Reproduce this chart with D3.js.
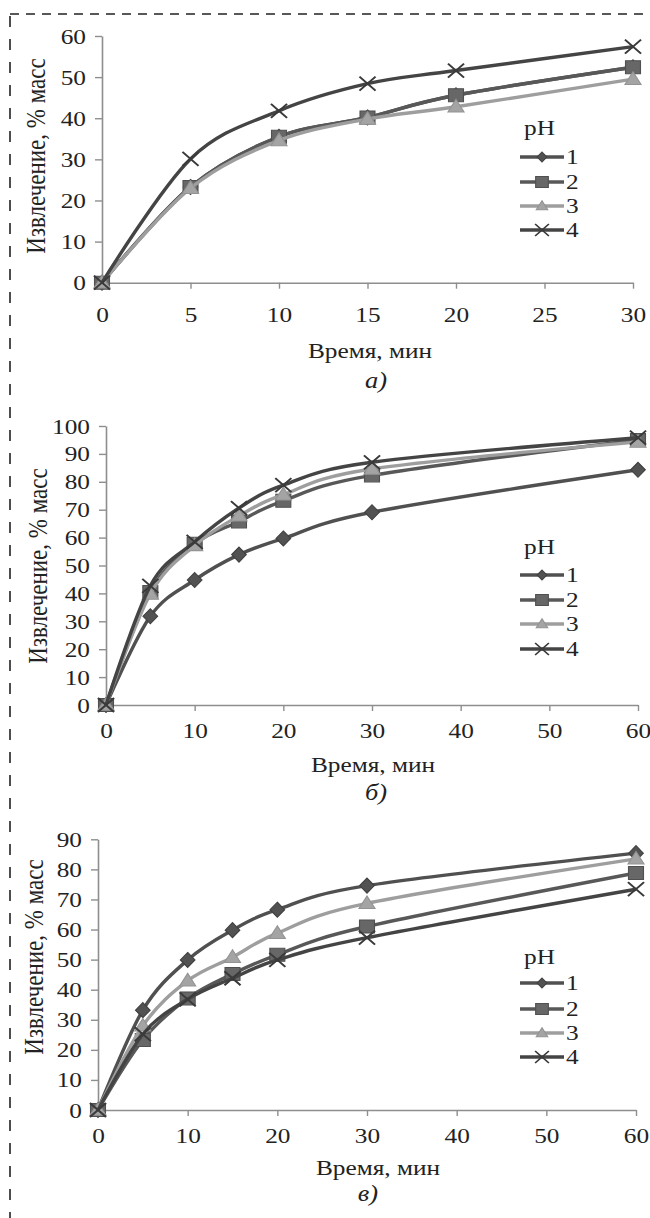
<!DOCTYPE html>
<html><head><meta charset="utf-8">
<script src="https://cdn.jsdelivr.net/npm/d3@7"></script>
<style>body{margin:0;background:#fff}svg{display:block}text{font-family:"Liberation Serif";}</style>
</head><body>
<script>
// ---- DATA ----
const timesA = [0, 5, 10, 15, 20, 30];
const timesBC = [0, 5, 10, 15, 20, 30, 60];
const seriesNames = ["1", "2", "3", "4"];
const xTicksA = [0, 5, 10, 15, 20, 25, 30];
const xTicksBC = [0, 10, 20, 30, 40, 50, 60];
const yTicksA = [0, 10, 20, 30, 40, 50, 60];
const yTicksB = [0, 10, 20, 30, 40, 50, 60, 70, 80, 90, 100];
const yTicksC = [0, 10, 20, 30, 40, 50, 60, 70, 80, 90];

const a_pH1 = [0, 23.3, 35.5, 40.2, 45.6, 52.4];
const a_pH2 = [0, 23.3, 35.5, 40.2, 45.6, 52.4];
const a_pH3 = [0, 23.0, 34.6, 39.8, 42.8, 49.5];
const a_pH4 = [0, 30.1, 41.8, 48.4, 51.6, 57.4];

const b_pH1 = [0, 31.8, 44.8, 53.9, 59.7, 69.1, 84.3];
const b_pH2 = [0, 40.5, 57.8, 65.8, 73.2, 82.3, 95.0];
const b_pH3 = [0, 39.8, 57.2, 67.8, 75.4, 84.6, 94.3];
const b_pH4 = [0, 42.7, 58.5, 70.6, 78.8, 87.0, 95.8];

const c_pH1 = [0, 33.2, 49.9, 59.8, 66.6, 74.6, 85.4];
const c_pH2 = [0, 23.3, 37.1, 45.2, 51.6, 61.0, 78.8];
const c_pH3 = [0, 28.0, 43.0, 50.8, 58.8, 68.7, 83.5];
const c_pH4 = [0, 25.2, 36.8, 43.8, 49.9, 57.3, 73.4];

const xTitle = "Время, мин";
const yTitle = "Извлечение, % масс";
const legendTitle = "pH";
const captions = ["а)", "б)", "в)"];

// ---- STYLE ----
const FONT = "Liberation Serif";
const SX = 1.15; // horizontal stretch of the original scan
const lineCol = ["#505050", "#585858", "#9e9e9e", "#444444"];
const fillCol = ["#525252", "#676767", "#a4a4a4", "none"];
const strokeCol = ["#404040", "#505050", "#939393", "#3a3a3a"];
const shapes = ["diamond", "square", "triangle", "x"];

const svg = d3.select("body").append("svg").attr("width", 650).attr("height", 1218);

// dashed frame
svg.append("line").attr("x1", 10).attr("y1", 14).attr("x2", 650).attr("y2", 14)
  .attr("stroke", "#222").attr("stroke-width", 1.6).attr("stroke-dasharray", "9,7");
svg.append("line").attr("x1", 10).attr("y1", 14).attr("x2", 10).attr("y2", 1218)
  .attr("stroke", "#222").attr("stroke-width", 1.6).attr("stroke-dasharray", "11,12").attr("stroke-dashoffset", -2);

function markerPath(type, r) {
  if (type === "diamond") return `M0,${-r}L${r * 0.85},0L0,${r}L${-r * 0.85},0Z`;
  if (type === "square") return `M${-r},${-r}H${r}V${r}H${-r}Z`;
  if (type === "triangle") return `M0,${-r * 1.05}L${r},${r * 0.75}L${-r},${r * 0.75}Z`;
  return `M${-r},${-r}L${r},${r}M${r},${-r}L${-r},${r}`;
}
const markerR = [7.5, 6.5, 7, 7];
const legendR = [5, 5.5, 5, 6];

function stext(g, x, y, txt, opts = {}) {
  return g.append("text")
    .attr("transform", `translate(${x},${y}) scale(${opts.sx || SX},1)`)
    .attr("text-anchor", opts.anchor || "middle")
    .style("font-family", FONT).attr("font-size", opts.size || 22)
    .attr("font-style", opts.italic ? "italic" : "normal")
    .attr("fill", "#222").text(txt);
}

function panel(cfg) {
  const g = svg.append("g");
  const x = d3.scaleLinear().domain(cfg.xDomain).range(cfg.xRange);
  const y = d3.scaleLinear().domain(cfg.yDomain).range(cfg.yRange);
  const axisCol = "#8e8e8e";

  const xa = g.append("g").attr("transform", `translate(0,${cfg.yRange[0]})`)
    .call(d3.axisBottom(x).tickValues(cfg.xTicks).tickSize(6).tickSizeOuter(0).tickFormat(d3.format("d")));
  const ya = g.append("g").attr("transform", `translate(${cfg.xRange[0]},0)`)
    .call(d3.axisLeft(y).tickValues(cfg.yTicks).tickSize(7).tickSizeOuter(0).tickFormat(d3.format("d")));
  [xa, ya].forEach(a => {
    a.attr("font-family", null);
    a.select(".domain").attr("stroke", axisCol).attr("stroke-width", 1.6);
    a.selectAll(".tick line").attr("stroke", axisCol).attr("stroke-width", 1.4);
    a.selectAll(".tick text").style("font-family", FONT).attr("font-size", 22).attr("fill", "#222");
  });
  xa.selectAll(".tick text").attr("x", null).attr("y", null).attr("dy", null)
    .attr("transform", `translate(0,${cfg.tickBase - cfg.yRange[0]}) scale(${SX},1)`);
  ya.selectAll(".tick text").attr("x", null).attr("dy", null)
    .attr("transform", `translate(-16,7) scale(${SX},1)`);

  // axis titles
  stext(g, cfg.xTitleX, cfg.xTitleY, xTitle);
  stext(g, cfg.capX, cfg.capY, cfg.caption, { italic: true, size: 23 });
  g.append("text")
    .attr("transform", `translate(${cfg.yTitleX},${cfg.yTitleY}) rotate(-90) scale(1,1.15)`)
    .attr("text-anchor", "middle").style("font-family", FONT).attr("font-size", 23)
    .attr("dy", "0.35em").attr("fill", "#222").text(yTitle);

  const line = d3.line().x((d, i) => x(cfg.times[i])).y(d => y(d)).curve(d3.curveCardinal.tension(0));
  cfg.series.forEach((s, k) => {
    g.append("path").datum(s).attr("d", line).attr("fill", "none")
      .attr("stroke", lineCol[k]).attr("stroke-width", 3.4).attr("stroke-linejoin", "round");
    g.selectAll(null).data(s).enter().append("path")
      .attr("transform", (d, i) => `translate(${x(cfg.times[i])},${y(d)}) scale(${SX},1)`)
      .attr("d", markerPath(shapes[k], markerR[k]))
      .attr("fill", fillCol[k]).attr("stroke", strokeCol[k])
      .attr("stroke-width", k === 3 ? 1.8 : 1);
  });

  // legend
  const lg = g.append("g");
  stext(lg, cfg.legX + 2, cfg.legTitleY + 7, legendTitle, { anchor: "start" });
  seriesNames.forEach((nm, k) => {
    const cy = cfg.legRows[k];
    lg.append("line").attr("x1", cfg.legX - 2).attr("x2", cfg.legX + 42).attr("y1", cy).attr("y2", cy)
      .attr("stroke", lineCol[k]).attr("stroke-width", 3.4);
    lg.append("path").attr("transform", `translate(${cfg.legX + 20},${cy}) scale(${SX},1)`)
      .attr("d", markerPath(shapes[k], legendR[k]))
      .attr("fill", fillCol[k]).attr("stroke", strokeCol[k]).attr("stroke-width", k === 3 ? 1.5 : 1);
    stext(lg, cfg.legX + 44, cy + 7, nm, { anchor: "start" });
  });
}

panel({
  times: timesA, series: [a_pH1, a_pH2, a_pH3, a_pH4],
  xDomain: [0, 30], yDomain: [0, 60], xTicks: xTicksA, yTicks: yTicksA,
  xRange: [102, 633], yRange: [282.7, 36],
  tickBase: 322, xTitleX: 370, xTitleY: 358, capX: 376, capY: 388, caption: captions[0],
  yTitleX: 36, yTitleY: 156,
  legX: 522, legTitleY: 128, legRows: [157, 182, 206, 230]
});
panel({
  times: timesBC, series: [b_pH1, b_pH2, b_pH3, b_pH4],
  xDomain: [0, 60], yDomain: [0, 100], xTicks: xTicksBC, yTicks: yTicksB,
  xRange: [106, 638], yRange: [705, 426],
  tickBase: 738, xTitleX: 373, xTitleY: 772, capX: 376, capY: 800, caption: captions[1],
  yTitleX: 38, yTitleY: 566,
  legX: 522, legTitleY: 547, legRows: [575, 600, 624, 649]
});
panel({
  times: timesBC, series: [c_pH1, c_pH2, c_pH3, c_pH4],
  xDomain: [0, 60], yDomain: [0, 90], xTicks: xTicksBC, yTicks: yTicksC,
  xRange: [98, 636], yRange: [1110, 839.3],
  tickBase: 1143, xTitleX: 378, xTitleY: 1175, capX: 368, capY: 1201, caption: captions[2],
  yTitleX: 34, yTitleY: 957,
  legX: 522, legTitleY: 957, legRows: [983, 1009, 1033, 1057]
});
</script>
</body></html>
